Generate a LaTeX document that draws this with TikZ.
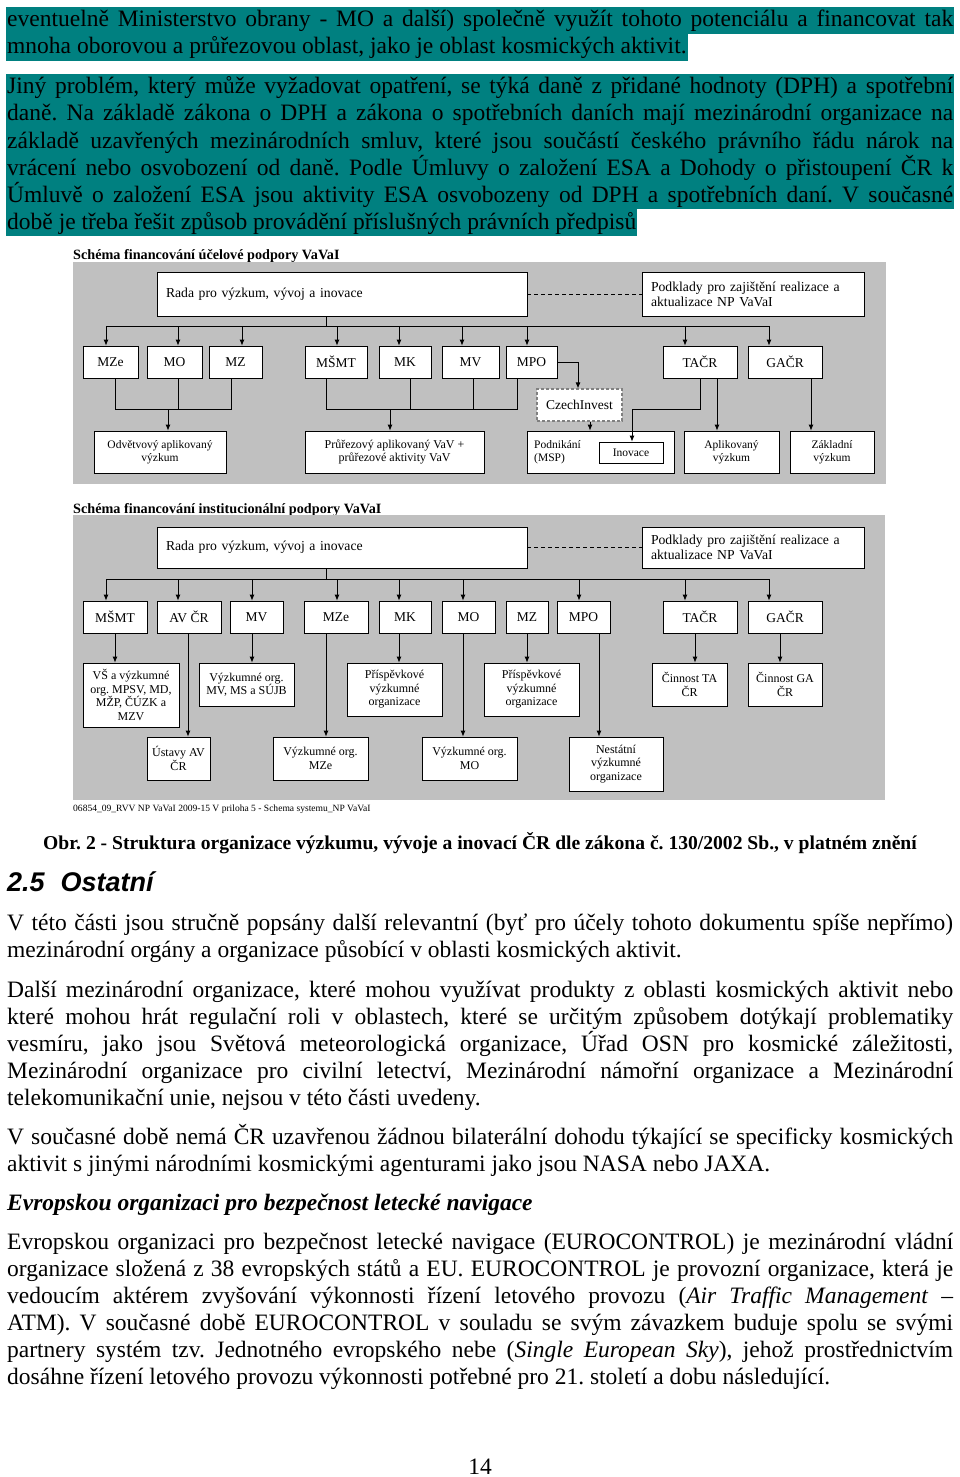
\documentclass[tikz,border=0pt]{standalone}
\usepackage{fontspec}
\setmainfont{Liberation Serif}
\newfontfamily\headfont{Liberation Sans}
\usetikzlibrary{arrows.meta}
\frenchspacing

\definecolor{hlteal}{RGB}{0,128,128}
\definecolor{panelgray}{RGB}{192,192,192}
\newcommand\jl[1]{\makebox[946pt][s]{#1}}

\tikzset{
  body/.style={anchor=base west, inner sep=0pt, font=\fontsize{23.5}{27}\selectfont},
  hl/.style={body, fill=hlteal, inner xsep=1pt, text height=20pt, text depth=7pt},
  box/.style={draw=black, fill=white, line width=0.8pt, inner sep=1pt, align=center, font=\fontsize{11.5}{13.5}\selectfont},
  org/.style={box, font=\fontsize{13.5}{15}\selectfont},
  wide/.style={box, align=left, inner xsep=9pt, font=\fontsize{13.7}{15}\selectfont},
  schtitle/.style={anchor=base west, inner sep=0pt, font=\bfseries\fontsize{14.2}{16}\selectfont},
  arr/.style={line width=0.8pt, -{Latex[length=6pt,width=5pt]}},
  conn/.style={line width=0.8pt}
}

\begin{document}
\begin{tikzpicture}[x=1pt, y=-1pt]
\useasboundingbox (0,0) rectangle (960,1477);

% highlighted text
\node[hl] (p1a) at (6,27) {\jl{eventuelně Ministerstvo obrany - MO a další) společně využít tohoto potenciálu a financovat tak}};
\node[hl] (p1b) at (6,54) {mnoha oborovou a průřezovou oblast, jako je oblast kosmických aktivit.\hspace{3pt}};
\node[hl] (p2a) at (6,94) {\jl{Jiný problém, který může vyžadovat opatření, se týká daně z přidané hodnoty (DPH) a spotřební}};
\node[hl] (p2b) at (6,121) {\jl{daně. Na základě zákona o DPH a zákona o spotřebních daních mají mezinárodní organizace na}};
\node[hl] (p2c) at (6,148) {\jl{základě uzavřených mezinárodních smluv, které jsou součástí českého právního řádu nárok na}};
\node[hl] (p2d) at (6,175) {\jl{vrácení nebo osvobození od daně. Podle Úmluvy o založení ESA a Dohody o přistoupení ČR k}};
\node[hl] (p2e) at (6,202) {\jl{Úmluvě o založení ESA jsou aktivity ESA osvobozeny od DPH a spotřebních daní. V současné}};
\node[hl] (p2f) at (6,229) {době je třeba řešit způsob provádění příslušných právních předpisů\hspace{8pt}};

% scheme 1
\node[schtitle] (t1) at (73,259) {\underline{Schéma financování účelové podpory VaVaI}};
\fill[panelgray] (73,262) rectangle (886,484);

\node[wide, text width=352pt, minimum height=44pt] (rada1) at (342,294) {Rada pro výzkum, vývoj a inovace};
\node[wide, text width=204pt, minimum height=44pt] (podkl1) at (753,294) {Podklady pro zajištění realizace a\\aktualizace NP VaVaI};

\node[org, minimum width=55pt, minimum height=32pt] (mze1) at (110.5,362) {MZe};
\node[org, minimum width=55pt, minimum height=32pt] (mo1) at (174.5,362) {MO};
\node[org, minimum width=53pt, minimum height=32pt] (mz1) at (235.5,362) {MZ};
\node[org, minimum width=62pt, minimum height=32pt] (msmt1) at (336,362) {MŠMT};
\node[org, minimum width=52pt, minimum height=32pt] (mk1) at (405,362) {MK};
\node[org, minimum width=57pt, minimum height=32pt] (mv1) at (470.5,362) {MV};
\node[org, minimum width=51pt, minimum height=32pt] (mpo1) at (531.5,362) {MPO};
\node[org, minimum width=74pt, minimum height=32pt] (tacr1) at (700,362) {TAČR};
\node[org, minimum width=74pt, minimum height=32pt] (gacr1) at (785,362) {GAČR};

\node[org, draw=black!50, line width=1.2pt, dash pattern=on 3pt off 2pt, minimum width=85pt, minimum height=32pt] (czi) at (579.5,405) {CzechInvest};

\node[box, minimum width=132pt, minimum height=42pt] (odv) at (160,452) {Odvětvový aplikovaný\\výzkum};
\node[box, font=\fontsize{12}{13.5}\selectfont, minimum width=179pt, minimum height=42pt] (prur) at (394.5,452) {Průřezový aplikovaný VaV +\\průřezové aktivity VaV};
\node[box, minimum width=147pt, minimum height=42pt] (pod) at (600.5,452) {};
\node[anchor=west, align=left, inner sep=0pt, font=\fontsize{11.5}{13.5}\selectfont] (podtxt) at (534,452) {Podnikání\\(MSP)};
\node[box, minimum width=64pt, minimum height=21pt] (inov) at (631,452.5) {Inovace};
\node[box, minimum width=95pt, minimum height=42pt] (apl) at (731.5,452) {Aplikovaný\\výzkum};
\node[box, minimum width=84pt, minimum height=42pt] (zak) at (832,452) {Základní\\výzkum};

\coordinate (bus1L) at (106,326);
\coordinate (bus1R) at (769,326);
\draw[conn] (bus1L) -- (bus1R);
\draw[conn] (rada1.south -| 326,0) -- (326,326);
\draw[conn, dash pattern=on 4pt off 3pt] (rada1.east) -- (podkl1.west);
\foreach \b/\ax in {mze1/106, mo1/178, mz1/242, msmt1/337, mk1/399, mv1/462, mpo1/527, tacr1/685, gacr1/769}
  \draw[arr] (bus1L -| \ax,0) -- (\b.north -| \ax,0);

\draw[conn] (mze1.south -| 115,0) |- (231,409) -- (mz1.south -| 231,0);
\draw[conn] (mo1.south -| 178,0) -- (178,409);
\draw[arr] (168,409) -- (odv.north -| 168,0);
\draw[conn] (msmt1.south -| 326,0) |- (517,409) -- (mpo1.south -| 517,0);
\draw[conn] (mk1.south -| 410,0) -- (410,409);
\draw[conn] (mv1.south -| 473,0) -- (473,409);
\draw[arr] (390,409) -- (prur.north -| 390,0);
\draw[arr] (mpo1.east) -| (czi.north -| 578,0);
\draw[arr] (czi.south -| 590,0) -- (pod.north -| 590,0);
\draw[arr] (tacr1.south) |- (632,409) -- (inov.north -| 632,0);
\draw[arr] (tacr1.south -| 717,0) -- (apl.north -| 717,0);
\draw[arr] (gacr1.south -| 811,0) -- (zak.north -| 811,0);

% scheme 2
\node[schtitle] (t2) at (73,513) {\underline{Schéma financování institucionální podpory VaVaI}};
\fill[panelgray] (73,515) rectangle (885,800);

\node[wide, text width=352pt, minimum height=41pt] (rada2) at (342,547.5) {Rada pro výzkum, vývoj a inovace};
\node[wide, text width=204pt, minimum height=41pt] (podkl2) at (753,547.5) {Podklady pro zajištění realizace a\\aktualizace NP VaVaI};

\node[org, minimum width=64pt, minimum height=32pt] (msmt2) at (115,617) {MŠMT};
\node[org, minimum width=64pt, minimum height=32pt] (avcr) at (189,617) {AV ČR};
\node[org, minimum width=53pt, minimum height=32pt] (mv2) at (256.5,617) {MV};
\node[org, minimum width=64pt, minimum height=32pt] (mze2) at (336,617) {MZe};
\node[org, minimum width=52pt, minimum height=32pt] (mk2) at (405,617) {MK};
\node[org, minimum width=53pt, minimum height=32pt] (mo2) at (468.5,617) {MO};
\node[org, minimum width=42pt, minimum height=32pt] (mz2) at (527,617) {MZ};
\node[org, minimum width=53pt, minimum height=32pt] (mpo2) at (583.5,617) {MPO};
\node[org, minimum width=74pt, minimum height=32pt] (tacr2) at (700,617) {TAČR};
\node[org, minimum width=74pt, minimum height=32pt] (gacr2) at (785,617) {GAČR};

\node[box, font=\fontsize{12}{13.5}\selectfont, minimum width=96pt, minimum height=64pt] (vs) at (131,695) {VŠ a výzkumné\\org. MPSV, MD,\\MŽP, ČÚZK a\\MZV};
\node[box, font=\fontsize{12}{13.5}\selectfont, minimum width=95pt, minimum height=43pt] (vmv) at (246.5,684.5) {Výzkumné org.\\MV, MS a SÚJB};
\node[box, font=\fontsize{12}{13.5}\selectfont, minimum width=95pt, minimum height=53pt] (prisp1) at (394.5,689.5) {Příspěvkové\\výzkumné\\organizace};
\node[box, font=\fontsize{12}{13.5}\selectfont, minimum width=95pt, minimum height=53pt] (prisp2) at (531.5,689.5) {Příspěvkové\\výzkumné\\organizace};
\node[box, font=\fontsize{12}{13.5}\selectfont, minimum width=75pt, minimum height=43pt] (cta) at (689.5,684.5) {Činnost TA\\ČR};
\node[box, font=\fontsize{12}{13.5}\selectfont, minimum width=74pt, minimum height=43pt] (cga) at (785,684.5) {Činnost GA\\ČR};

\node[box, font=\fontsize{12}{13.5}\selectfont, minimum width=63pt, minimum height=43pt] (ust) at (178.5,758.5) {Ústavy AV\\ČR};
\node[box, font=\fontsize{12}{13.5}\selectfont, minimum width=95pt, minimum height=43pt] (vmze) at (320.5,758.5) {Výzkumné org.\\MZe};
\node[box, font=\fontsize{12}{13.5}\selectfont, minimum width=95pt, minimum height=43pt] (vmo) at (469.5,758.5) {Výzkumné org.\\MO};
\node[box, font=\fontsize{12}{13.5}\selectfont, minimum width=94pt, minimum height=54pt] (nest) at (616,764) {Nestátní\\výzkumné\\organizace};

\coordinate (bus2L) at (106,579);
\coordinate (bus2R) at (769,579);
\draw[conn] (bus2L) -- (bus2R);
\draw[conn] (rada2.south -| 326,0) -- (326,579);
\draw[conn, dash pattern=on 4pt off 3pt] (rada2.east) -- (podkl2.west);
\foreach \b/\ax in {msmt2/106, avcr/178, mv2/252, mze2/337, mk2/399, mo2/463, mpo2/579, tacr2/685, gacr2/769}
  \draw[arr] (bus2L -| \ax,0) -- (\b.north -| \ax,0);
\foreach \a/\b/\ax in {msmt2/vs/115, avcr/ust/188, mv2/vmv/252, mze2/vmze/326, mk2/prisp1/399, mo2/vmo/463, mz2/prisp2/527, mpo2/nest/599, tacr2/cta/695, gacr2/cga/780}
  \draw[arr] (\a.south -| \ax,0) -- (\b.north -| \ax,0);

\node[anchor=base west, inner sep=0pt, font=\fontsize{9.55}{12}\selectfont] (src) at (73,811) {06854\_09\_RVV NP VaVaI 2009-15 V priloha 5 - Schema systemu\_NP VaVaI};

% caption and section
\node[anchor=base, inner sep=0pt, font=\bfseries\fontsize{19.6}{22}\selectfont] (capt) at (480,849) {Obr. 2 - Struktura organizace výzkumu, vývoje a inovací ČR dle zákona č. 130/2002 Sb., v platném znění};
\node[anchor=base west, inner sep=0pt, font=\headfont\bfseries\itshape\fontsize{27}{30}\selectfont] (sec) at (7,891) {2.5\hspace{16pt}Ostatní};

\node[body] (p3a) at (7,930) {\jl{V této části jsou stručně popsány další relevantní (byť pro účely tohoto dokumentu spíše nepřímo)}};
\node[body] (p3b) at (7,957) {mezinárodní orgány a organizace působící v oblasti kosmických aktivit.};

\node[body] (p4a) at (7,997) {\jl{Další mezinárodní organizace, které mohou využívat produkty z oblasti kosmických aktivit nebo}};
\node[body] (p4b) at (7,1024) {\jl{které mohou hrát regulační roli v oblastech, které se určitým způsobem dotýkají problematiky}};
\node[body] (p4c) at (7,1051) {\jl{vesmíru, jako jsou Světová meteorologická organizace, Úřad OSN pro kosmické záležitosti,}};
\node[body] (p4d) at (7,1078) {\jl{Mezinárodní organizace pro civilní letectví, Mezinárodní námořní organizace a Mezinárodní}};
\node[body] (p4e) at (7,1105) {telekomunikační unie, nejsou v této části uvedeny.};

\node[body] (p5a) at (7,1144) {\jl{V současné době nemá ČR uzavřenou žádnou bilaterální dohodu týkající se specificky kosmických}};
\node[body] (p5b) at (7,1171) {aktivit s jinými národními kosmickými agenturami jako jsou NASA nebo JAXA.};

\node[body, font=\bfseries\itshape\fontsize{23.5}{27}\selectfont] (sub) at (7,1210) {Evropskou organizaci pro bezpečnost letecké navigace};

\node[body] (p6a) at (7,1249) {\jl{Evropskou organizaci pro bezpečnost letecké navigace (EUROCONTROL) je mezinárodní vládní}};
\node[body] (p6b) at (7,1276) {\jl{organizace složená z 38 evropských států a EU. EUROCONTROL je provozní organizace, která je}};
\node[body] (p6c) at (7,1303) {\jl{vedoucím aktérem zvyšování výkonnosti řízení letového provozu (\textit{Air Traffic Management} –}};
\node[body] (p6d) at (7,1330) {\jl{ATM). V současné době EUROCONTROL v souladu se svým závazkem buduje spolu se svými}};
\node[body] (p6e) at (7,1357) {\jl{partnery systém tzv. Jednotného evropského nebe (\textit{Single European Sky}), jehož prostřednictvím}};
\node[body] (p6f) at (7,1384) {dosáhne řízení letového provozu výkonnosti potřebné pro 21. století a dobu následující.};

\node[anchor=base, inner sep=0pt, font=\fontsize{23.5}{27}\selectfont] (pgno) at (480,1474) {14};
\end{tikzpicture}
\end{document}
